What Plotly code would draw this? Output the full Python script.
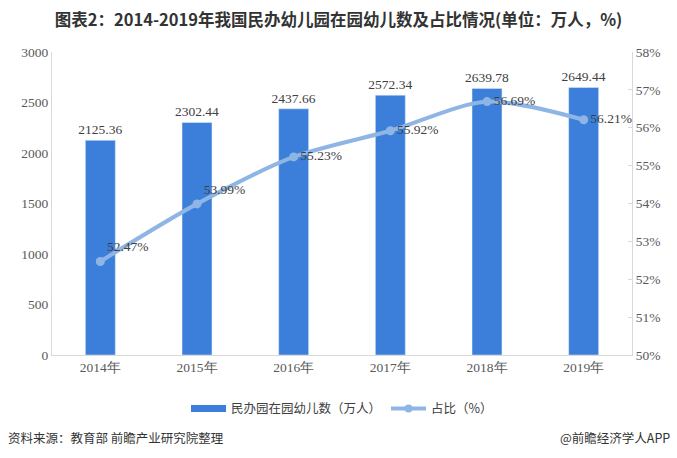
import plotly.graph_objects as go

years = ["2014年", "2015年", "2016年", "2017年", "2018年", "2019年"]
children = [2125.36, 2302.44, 2437.66, 2572.34, 2639.78, 2649.44]
share = [52.47, 53.99, 55.23, 55.92, 56.69, 56.21]
bar_labels = [f"{v:.2f}" for v in children]
share_labels = [f"{v:.2f}%" for v in share]
share_label_pos = ["top right", "top right", "middle right", "middle right", "middle right", "middle right"]

serif = "Liberation Serif, Times New Roman, serif"
cjk = "Noto Sans CJK SC, sans-serif"
bar_color = "#3b7fdb"
line_color = "#8fb5e5"

fig = go.Figure()
fig.add_trace(go.Bar(
    x=years, y=children, name="民办园在园幼儿数（万人）",
    marker_color=bar_color, width=0.31, showlegend=False,
    text=bar_labels, textposition="outside", cliponaxis=False, constraintext="none",
    textfont=dict(family=serif, size=13.5, color="#404040"),
))
fig.add_trace(go.Scatter(
    x=years, y=share, name="占比（%）", yaxis="y2",
    mode="lines+markers+text", showlegend=False,
    line=dict(color=line_color, width=4, shape="spline", smoothing=0.8),
    marker=dict(size=9, color=line_color),
    text=share_labels, textposition=share_label_pos, cliponaxis=False,
    textfont=dict(family=serif, size=13.5, color="#404040"),
))
# legend entries
fig.add_trace(go.Scatter(
    x=[None], y=[None], name="民办园在园幼儿数（万人）", mode="lines",
    line=dict(color=bar_color, width=7),
))
fig.add_trace(go.Scatter(
    x=[None], y=[None], name="占比（%）", mode="lines+markers",
    line=dict(color=line_color, width=4), marker=dict(size=8, color=line_color),
))

fig.update_layout(
    width=677, height=458,
    margin=dict(l=52, r=45, t=52, b=103),
    paper_bgcolor="white", plot_bgcolor="white",
    title=dict(text="<b>图表2：2014-2019年我国民办幼儿园在园幼儿数及占比情况(单位：万人，%)</b>",
               x=0.5, xanchor="center", y=0.956, yanchor="middle",
               font=dict(family=cjk, size=16.5, color="#333333")),
    xaxis=dict(showline=True, linecolor="#d9d9d9", ticks="", showgrid=False,
               tickfont=dict(family=serif, size=13.5, color="#595959")),
    yaxis=dict(range=[0, 3000], dtick=500, showgrid=False, showline=True,
               linecolor="#d9d9d9", ticks="", zeroline=False,
               tickfont=dict(family=serif, size=13.5, color="#595959")),
    yaxis2=dict(range=[50, 58], dtick=1, overlaying="y", side="right",
                ticksuffix="%", showgrid=False, showline=True, linecolor="#d9d9d9",
                ticks="inside", ticklen=4, tickcolor="#d9d9d9", zeroline=False,
                tickfont=dict(family=serif, size=13.5, color="#595959")),
    showlegend=True,
    legend=dict(orientation="h", x=0.5, xanchor="center", y=-0.178, yanchor="middle",
                font=dict(family=cjk, size=12.5, color="#404040"),
                itemwidth=35, traceorder="normal"),
    annotations=[
        dict(text="资料来源：教育部 前瞻产业研究院整理", xref="paper", yref="paper",
             x=-0.079, y=-0.271, xanchor="left", yanchor="middle", showarrow=False,
             font=dict(family=cjk, size=12.5, color="#333333")),
        dict(text="@前瞻经济学人APP", xref="paper", yref="paper",
             x=1.069, y=-0.271, xanchor="right", yanchor="middle", showarrow=False,
             font=dict(family=cjk, size=12.5, color="#333333")),
    ],
)

fig.write_html("out.html", config={"displayModeBar": False},
               post_script="document.body.style.margin='0';")
